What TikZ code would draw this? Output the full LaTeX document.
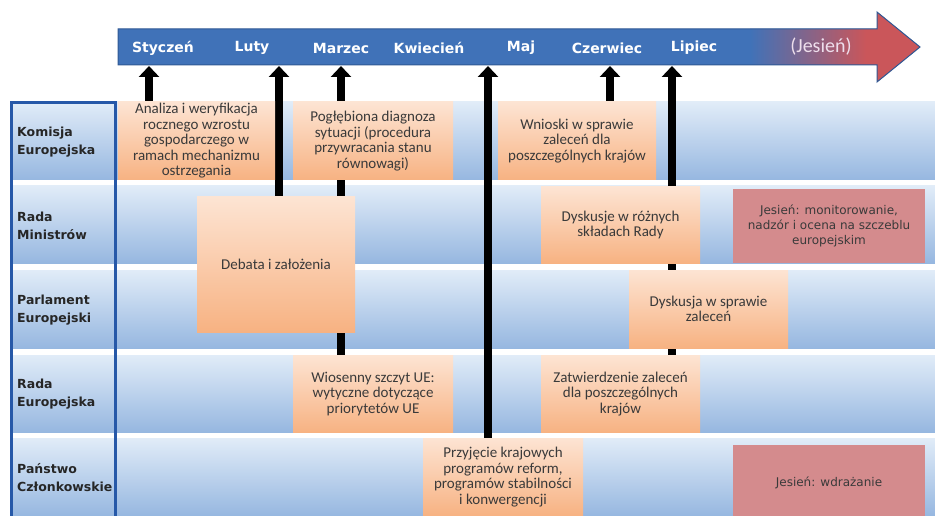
\documentclass[tikz,border=0pt]{standalone}
\usepackage{fontspec}
\setmainfont{Carlito}
\newfontfamily\headfont{DejaVu Sans}
\usetikzlibrary{arrows.meta, positioning}
\definecolor{barblue}{RGB}{64,114,184}
\definecolor{barline}{RGB}{47,88,148}
\definecolor{barpink}{RGB}{218,170,188}
\definecolor{barred}{RGB}{202,86,90}
\definecolor{jesienpink}{RGB}{238,222,236}
\definecolor{lanetop}{RGB}{225,236,248}
\definecolor{lanebot}{RGB}{150,183,224}
\definecolor{boxtop}{RGB}{253,228,211}
\definecolor{boxbot}{RGB}{247,178,130}
\definecolor{autumn}{RGB}{212,139,141}
\definecolor{headblue}{RGB}{38,88,168}
\definecolor{txtgray}{RGB}{58,58,58}

\pgfdeclarelayer{lanes}
\pgfdeclarelayer{links}
\pgfsetlayers{lanes,links,main}

\tikzset{
  task/.style={top color=boxtop, bottom color=boxbot, align=center, text=txtgray, inner sep=0pt,
    font=\fontsize{15}{15.5}\selectfont, minimum width=159pt, minimum height=78pt},
  autumnbox/.style={fill=autumn, align=center, text=txtgray, inner sep=0pt,
    font=\headfont\fontsize{12}{15}\selectfont, minimum width=192pt, minimum height=74pt},
  month/.style={font=\headfont\bfseries\fontsize{14}{16}\selectfont, text=white},
  actor/.style={font=\headfont\bfseries\fontsize{12.5}{18}\selectfont, text=black!85, align=left, anchor=west, inner sep=0pt},
  lane/.style={top color=lanetop, bottom color=lanebot},
  uparrow/.style={line width=8pt, -{Triangle[width=20pt, length=11pt]}}
}

\newcommand{\timebar}{(118,29) -- (877,29) -- (877,12) -- (920,47) -- (877,82) -- (877,65) -- (118,65) -- cycle}

\begin{document}
\begin{tikzpicture}[x=1pt, y=-1pt]
        \useasboundingbox (0,0) rectangle (935,516);

        \begin{pgfonlayer}{lanes}
        \foreach \t/\b in {102/180, 186/263, 270/348, 355/432, 438/516}
          \shade [lane] (10,\t) rectangle (935,\b);
        \end{pgfonlayer}

        \fill [barblue] \timebar;
        \begin{scope}
        \clip \timebar;
        \shade [left color=barblue, middle color=barpink, right color=barred] (750,8) rectangle (866,86);
        \fill [barred] (865.5,8) rectangle (925,86);
        \end{scope}
        \draw [barline, line width=1pt] \timebar;

        \foreach \x/\m [count=\i] in {163/Styczeń, 252/Luty, 341/Marzec, 429/Kwiecień, 521/Maj, 607/Czerwiec, 694/Lipiec}
          \node [month] (M\i) at (\x,48) {\m};
        \node [month, font=\fontsize{20}{22}\selectfont, text=jesienpink] (M8) at (821,47) {(Jesień)};
        \foreach \x [count=\i] in {149, 279, 341, 488, 610, 672}
          \coordinate (T\i) at (\x,66);

        \draw [headblue, line width=3pt] (11.5,103) rectangle (115.5,522);
        \node [actor] (A1) at (17,142) {Komisja\\Europejska};
        \node [actor] (A2) at (17,226) {Rada\\Ministrów};
        \node [actor] (A3) at (17,310) {Parlament\\Europejski};
        \node [actor] (A4) at (17,394) {Rada\\Europejska};
        \node [actor] (A5) at (17,478) {Państwo\\Członkowskie};

        \node [task, minimum width=157pt] (KE1) at (196.5,141) {Analiza i weryfikacja\\rocznego wzrostu\\gospodarczego w\\ramach mechanizmu\\ostrzegania};
        \node [task, minimum width=160pt] (KE2) at (373,141) {Pogłębiona diagnoza\\sytuacji (procedura\\przywracania stanu\\równowagi)};
        \node [task, minimum width=158pt] (KE3) at (577,141) {Wnioski w sprawie\\zaleceń dla\\poszczególnych krajów};
        \node [task, minimum width=158pt, minimum height=135pt] (RM1) at (276,264.5) {Debata i założenia};
        \node [task, minimum height=76pt] (RM2) at (620.5,225) {Dyskusje w różnych\\składach Rady};
        \node [autumnbox] (RM3) at (829,226) {Jesień: monitorowanie,\\nadzór i ocena na szczeblu\\europejskim};
        \node [task] (PE1) at (708.5,309) {Dyskusja w sprawie\\zaleceń};
        \node [task, minimum width=160pt, minimum height=77pt, below=175pt of KE2] (RE1) {Wiosenny szczyt UE:\\wytyczne dotyczące\\priorytetów UE};
        \node [task, minimum height=77pt, below=92pt of RM2] (RE2) {Zatwierdzenie zaleceń\\dla poszczególnych\\krajów};
        \node [task, minimum width=160pt] (PC1) at (503,477) {Przyjęcie krajowych\\programów reform,\\programów stabilności\\i konwergencji};
        \node [autumnbox, below=182pt of RM3] (PC2) {Jesień: wdrażanie};

        \begin{pgfonlayer}{links}
        \draw [uparrow] (KE1.north -| T1) -- (T1);
        \draw [uparrow] (RM1.north -| T2) -- (T2);
        \draw [uparrow] (RE1.north -| T3) -- (T3);
        \draw [uparrow] (PC1.north -| T4) -- (T4);
        \draw [uparrow] (KE3.north -| T5) -- (T5);
        \draw [uparrow] (RE2.north -| T6) -- (T6);
        \end{pgfonlayer}
\end{tikzpicture}
\end{document}
